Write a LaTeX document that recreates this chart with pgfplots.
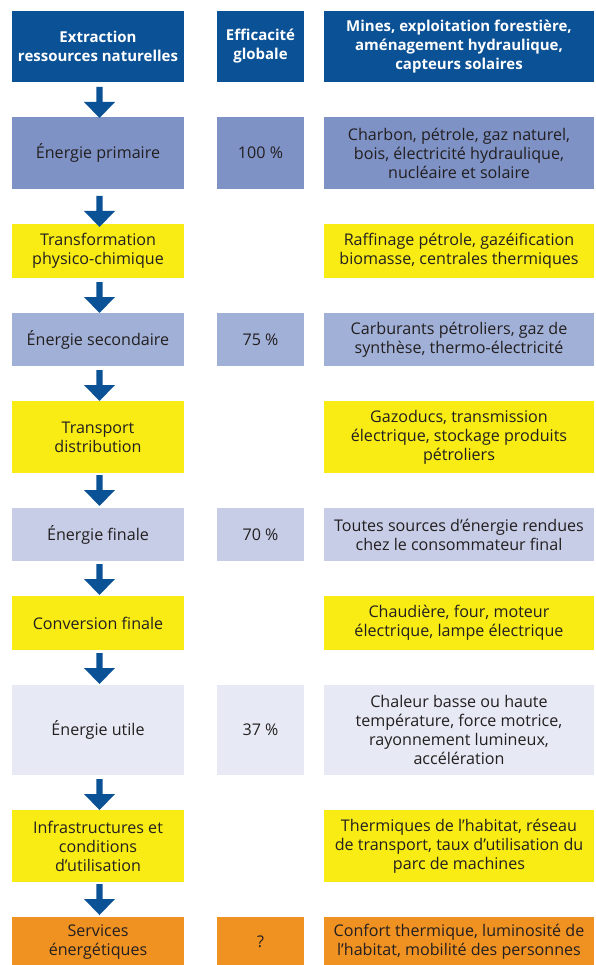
\documentclass[border=0pt]{standalone}
\usepackage{pgfplots}
\usepackage{pgfplotstable}
\pgfplotsset{compat=1.18}
\usepackage{fontspec}
\setmainfont{Open Sans}

\definecolor{hdblue}{RGB}{11,81,150}
\definecolor{prim}{RGB}{126,146,198}
\definecolor{sec}{RGB}{161,176,215}
\definecolor{fin}{RGB}{199,205,230}
\definecolor{util}{RGB}{231,234,244}
\definecolor{jaune}{RGB}{248,236,20}
\definecolor{orange}{RGB}{240,146,34}
\definecolor{txt}{RGB}{35,31,32}

% arrow outline, tip pointing down (y grows downwards)
\pgfplotstableread{
x y
-3.2 0
3.2 0
3.2 15
15.5 15
0 31
-15.5 15
-3.2 15
}\arrowshape

% column edges
\def\la{12}\def\lb{184}
\def\ma{217}\def\mb{304}
\def\ra{324}\def\rb{594}

\newcommand{\cell}[5]{\addplot[fill=#1,draw=none] coordinates {(#2,#3) (#4,#3) (#4,#5) (#2,#5)} -- cycle;}
\newcommand{\arr}[1]{\addplot[fill=hdblue,draw=none] table[x expr=\thisrow{x}+99.5, y expr=\thisrow{y}+#1] {\arrowshape} -- cycle;}

\begin{document}
\begin{tikzpicture}
\begin{axis}[
    width=595pt, height=965pt, scale only axis,
    xmin=0, xmax=595, ymin=0, ymax=965,
    y dir=reverse, hide axis, clip=true,
    every axis plot/.append style={no markers},
]
\addplot[fill=white,draw=none] coordinates {(0,0) (595,0) (595,965) (0,965)} -- cycle;

% rows: header, primaire, transformation, secondaire, transport,
% finale, conversion, utile, infrastructures, services
\cell{hdblue}{\la}{11}{\lb}{82}
\cell{hdblue}{\ma}{11}{\mb}{82}
\cell{hdblue}{\ra}{11}{\rb}{82}

\cell{prim}{\la}{117}{\lb}{189}
\cell{prim}{\ma}{117}{\mb}{189}
\cell{prim}{\ra}{117}{\rb}{189}

\cell{jaune}{\la}{224}{\lb}{278}
\cell{jaune}{\ra}{224}{\rb}{278}

\cell{sec}{\la}{313}{\lb}{366}
\cell{sec}{\ma}{313}{\mb}{366}
\cell{sec}{\ra}{313}{\rb}{366}

\cell{jaune}{\la}{401}{\lb}{473}
\cell{jaune}{\ra}{401}{\rb}{473}

\cell{fin}{\la}{508}{\lb}{561}
\cell{fin}{\ma}{508}{\mb}{561}
\cell{fin}{\ra}{508}{\rb}{561}

\cell{jaune}{\la}{596}{\lb}{650}
\cell{jaune}{\ra}{596}{\rb}{650}

\cell{util}{\la}{685}{\lb}{775}
\cell{util}{\ma}{685}{\mb}{775}
\cell{util}{\ra}{685}{\rb}{775}

\cell{jaune}{\la}{810}{\lb}{882}
\cell{jaune}{\ra}{810}{\rb}{882}

\cell{orange}{\la}{917}{\lb}{965}
\cell{orange}{\ma}{917}{\mb}{965}
\cell{orange}{\ra}{917}{\rb}{965}

\arr{87}
\arr{196}
\arr{282}
\arr{370}
\arr{475}
\arr{564}
\arr{653}
\arr{779}
\arr{884}

\tikzset{lbl/.style={align=center, inner sep=0pt, text=txt, font=\fontsize{16.1}{19}\selectfont},
         hd/.style={lbl, text=white, font=\fontsize{15}{19}\selectfont\bfseries}}

\node[hd] at (axis cs:98,46.5) {Extraction\\ressources naturelles};
\node[hd] at (axis cs:260.5,46.5) {Efficacité\\globale};
\node[hd] at (axis cs:459,46.5) {Mines, exploitation forestière,\\aménagement hydraulique,\\capteurs solaires};

\node[lbl] at (axis cs:98,153) {Énergie primaire};
\node[lbl] at (axis cs:260.5,153) {100 \%};
\node[lbl] at (axis cs:459,153) {Charbon, pétrole, gaz naturel,\\bois, électricité hydraulique,\\nucléaire et solaire};

\node[lbl] at (axis cs:98,251) {Transformation\\physico-chimique};
\node[lbl] at (axis cs:459,251) {Raffinage pétrole, gazéification\\biomasse, centrales thermiques};

\node[lbl] at (axis cs:98,339.5) {Énergie secondaire};
\node[lbl] at (axis cs:260.5,339.5) {75 \%};
\node[lbl] at (axis cs:459,339.5) {Carburants pétroliers, gaz de\\synthèse, thermo-électricité};

\node[lbl] at (axis cs:98,437) {Transport\\distribution};
\node[lbl] at (axis cs:459,437) {Gazoducs, transmission\\électrique, stockage produits\\pétroliers};

\node[lbl] at (axis cs:98,534.5) {Énergie finale};
\node[lbl] at (axis cs:260.5,534.5) {70 \%};
\node[lbl] at (axis cs:459,534.5) {Toutes sources d’énergie rendues\\chez le consommateur final};

\node[lbl] at (axis cs:98,623) {Conversion finale};
\node[lbl] at (axis cs:459,623) {Chaudière, four, moteur\\électrique, lampe électrique};

\node[lbl] at (axis cs:98,730) {Énergie utile};
\node[lbl] at (axis cs:260.5,730) {37 \%};
\node[lbl] at (axis cs:459,730) {Chaleur basse ou haute\\température, force motrice,\\rayonnement lumineux,\\accélération};

\node[lbl] at (axis cs:98,846) {Infrastructures et\\conditions\\d’utilisation};
\node[lbl] at (axis cs:459,846) {Thermiques de l’habitat, réseau\\de transport, taux d’utilisation du\\parc de machines};

\node[lbl] at (axis cs:98,942) {Services\\énergétiques};
\node[lbl] at (axis cs:260.5,942) {?};
\node[lbl] at (axis cs:459,942) {Confort thermique, luminosité de\\l’habitat, mobilité des personnes};
\end{axis}
\end{tikzpicture}
\end{document}
